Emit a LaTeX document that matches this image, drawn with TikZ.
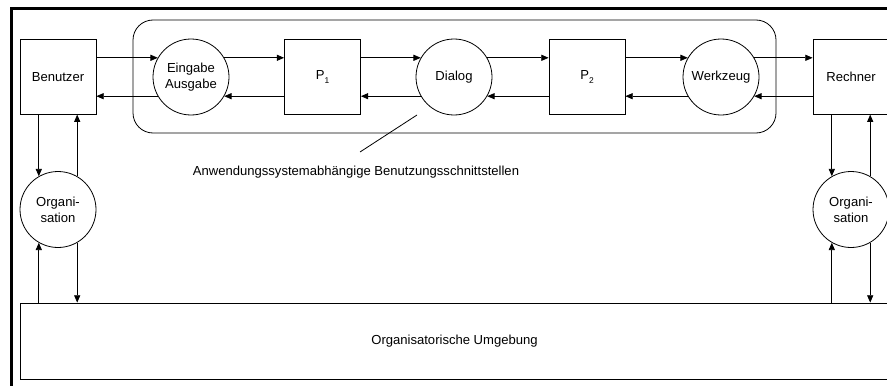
\documentclass[tikz,border=0pt]{standalone}
\usepackage{fontspec}
\setmainfont{Liberation Sans}
\usetikzlibrary{arrows.meta}
\newcommand{\lowsub}[1]{\raisebox{-3pt}{\fontsize{6.3}{7}\selectfont #1}}
\begin{document}
\begin{tikzpicture}[x=0.75pt,y=-0.75pt,
  every node/.style={font=\fontsize{9.8}{11.8}\selectfont, align=center},
  line/.style={line width=0.6pt, draw=black},
  flow/.style={line, -{Triangle[length=5.5pt,width=4.6pt]}},
  box/.style={line, rectangle, minimum width=57pt, minimum height=56.25pt, inner sep=0pt},
  proc/.style={line, circle, minimum size=57pt, inner sep=0pt},
  frame/.style={line width=2.25pt, draw=black}]
\useasboundingbox (0,0) rectangle (887,385);
\begin{scope}
\clip (0,0) rectangle (887,385);

% outer frame
\draw[frame] (11,390) -- (11,9) -- (892,9);

% group of application-dependent interfaces
\node[line, rounded corners=15pt, minimum width=482.25pt, minimum height=84.75pt] (ui) at (454.5,76.5) {};

% upper row
\node[box]  (ben)  at (58,76.7)  {Benutzer};
\node[proc] (ea)   at (191,77)   {Eingabe\\Ausgabe};
\node[box]  (p1)   at (322.5,76.7) {P\lowsub{1}};
\node[proc] (dia)  at (454,77)   {Dialog};
\node[box]  (p2)   at (587,76.7) {P\lowsub{2}};
\node[proc] (wz)   at (721,77)   {Werkzeug};
\node[box]  (rech) at (851,76.7) {Rechner};

% organisation circles
\node[proc] (orgL) at (58,209.5)  {Organi-\\sation};
\node[proc] (orgR) at (851,209.5) {Organi-\\sation};

% surrounding organisation
\node[line, rectangle, minimum width=651.75pt, minimum height=57pt, inner sep=0pt] (umg) at (454.5,341) {Organisatorische Umgebung};

% forward flow (upper arrows)
\draw[flow] (ben.east |- ea.150) -- (ea.150);
\draw[flow] (ea.30) -- (p1.west |- ea.30);
\draw[flow] (p1.east |- dia.150) -- (dia.150);
\draw[flow] (dia.30) -- (p2.west |- dia.30);
\draw[flow] (p2.east |- wz.150) -- (wz.150);
\draw[flow] (wz.30) -- (rech.west |- wz.30);

% backward flow (lower arrows)
\draw[flow] (rech.west |- wz.330) -- (wz.330);
\draw[flow] (wz.210) -- (p2.east |- wz.210);
\draw[flow] (p2.west |- dia.330) -- (dia.330);
\draw[flow] (dia.210) -- (p1.east |- dia.210);
\draw[flow] (p1.west |- ea.330) -- (ea.330);
\draw[flow] (ea.210) -- (ben.east |- ea.210);

% left organisation links
\draw[flow] (ben.south -| orgL.120) -- (orgL.120);
\draw[flow] (orgL.60) -- (ben.south -| orgL.60);
\draw[flow] (umg.north -| orgL.240) -- (orgL.240);
\draw[flow] (orgL.300) -- (umg.north -| orgL.300);

% right organisation links
\draw[flow] (rech.south -| orgR.120) -- (orgR.120);
\draw[flow] (orgR.60) -- (rech.south -| orgR.60);
\draw[flow] (umg.north -| orgR.240) -- (orgR.240);
\draw[flow] (orgR.300) -- (umg.north -| orgR.300);

% label with leader line
\node (lbl) at (356,172) {Anwendungssystemabhängige Benutzungsschnittstellen};
\coordinate (ls) at (360,152);
\coordinate (le) at (417,115);
\draw[line] (ls) -- (le);
\end{scope}
\end{tikzpicture}
\end{document}
